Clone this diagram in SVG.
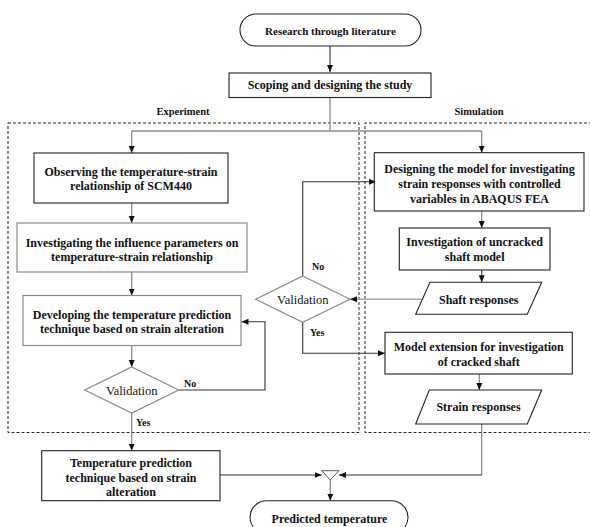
<svg xmlns="http://www.w3.org/2000/svg" width="590" height="527" viewBox="0 0 590 527" font-family="'Liberation Serif', 'Times New Roman', 'DejaVu Serif', serif">
<defs>
<style>
text{font-family:'Liberation Serif','Times New Roman','DejaVu Serif',serif;font-weight:bold;font-size:12px;fill:#111;text-anchor:middle}
.sm{font-size:10.5px}
.lbl{font-size:10px;text-anchor:start}
.val{font-weight:normal;font-size:12.5px}
.box{fill:#fff;stroke:#222;stroke-width:1.1}
.gbox{fill:#fff;stroke:#8a8a8a;stroke-width:1.2}
.dash{fill:none;stroke:#222;stroke-width:1;stroke-dasharray:3 2}
.c{fill:none;stroke:#333;stroke-width:1.1}
.g{fill:none;stroke:#8c8c8c;stroke-width:1.3}
.lg{fill:none;stroke:#aaa;stroke-width:1.4}
</style>
<marker id="a" markerUnits="userSpaceOnUse" markerWidth="8" markerHeight="8" refX="7" refY="4" orient="auto">
<path d="M0,1 L7,4 L0,7 Z" fill="#111"/>
</marker>
</defs>
<rect width="590" height="527" fill="#fff"/>

<g id="groups">
<path class="dash" d="M8 123 H359 V432.5 H8 Z"/>
<path class="dash" d="M592 123 H365 V432.5 H592"/>
<text class="sm" x="183" y="115">Experiment</text>
<text class="sm" x="479" y="115">Simulation</text>
</g>

<g id="connectors">
<path class="c" d="M330 46 V72" marker-end="url(#a)"/>
<path class="g" d="M330 97 V131"/>
<path class="g" d="M131.7 131 H481.7"/>
<path class="g" d="M131.7 131 V153" marker-end="url(#a)"/>
<path class="g" d="M481.7 131 V152.7" marker-end="url(#a)"/>
<path class="g" d="M131.7 203 V223" marker-end="url(#a)"/>
<path class="g" d="M131.7 272 V295.5" marker-end="url(#a)"/>
<path class="g" d="M131.7 345.5 V367" marker-end="url(#a)"/>
<path class="c" d="M178.7 390 H265 V321.7 H241.5" marker-end="url(#a)"/>
<path class="g" d="M131.7 413 V450.7" marker-end="url(#a)"/>
<path class="c" d="M302.7 276 V181.7 H376" marker-end="url(#a)"/>
<path class="c" d="M302.7 322.3 V353.3 H385" marker-end="url(#a)"/>
<path class="g" d="M481.7 211 V228" marker-end="url(#a)"/>
<path class="c" d="M481.7 270 V282.3" marker-end="url(#a)"/>
<path class="lg" d="M422 299.3 H350" marker-end="url(#a)"/>
<path class="g" d="M479.3 374 V390" marker-end="url(#a)"/>
<path class="g" d="M481.7 424 V475"/>
<path class="c" d="M481.7 475 H339" marker-end="url(#a)"/>
<path class="c" d="M220 475 H321.7" marker-end="url(#a)"/>
<path class="g" d="M330.3 480 V500.7" marker-end="url(#a)"/>
</g>

<g id="research">
<rect class="box" x="240" y="14" width="181" height="32" rx="16"/>
<text x="330.5" y="34.5" style="font-size:11px">Research through literature</text>
</g>
<g id="scoping">
<rect class="box" x="229" y="73" width="202" height="24.5"/>
<text x="330" y="89">Scoping and designing the study</text>
</g>

<g id="observing">
<rect class="box" x="34" y="153" width="194" height="50"/>
<text x="131" y="175.5">Observing the temperature-strain</text>
<text x="131" y="189.5">relationship of SCM440</text>
</g>
<g id="investigating">
<rect class="gbox" x="17" y="223" width="230" height="49"/>
<text x="132" y="247">Investigating the influence parameters on</text>
<text x="132" y="261">temperature-strain relationship</text>
</g>
<g id="developing">
<rect class="gbox" x="23" y="295.5" width="218" height="50"/>
<text x="132" y="318.5">Developing the temperature prediction</text>
<text x="132" y="332.5">technique based on strain alteration</text>
</g>
<g id="validation-left">
<polygon class="gbox" points="131.7,367 178.7,390 131.7,413 84.7,390"/>
<text class="val" x="131.7" y="394.5">Validation</text>
<text class="lbl" x="184" y="386.5">No</text>
<text class="lbl" x="136" y="425.5">Yes</text>
</g>
<g id="temperature-technique">
<rect class="box" x="41.7" y="450.7" width="178.3" height="50"/>
<text x="131" y="467">Temperature prediction</text>
<text x="131" y="481.5">technique based on strain</text>
<text x="131" y="495.5">alteration</text>
</g>

<g id="designing">
<rect class="box" x="374.3" y="152.7" width="209.7" height="58.3"/>
<text x="479.5" y="172.5">Designing the model for investigating</text>
<text x="479.5" y="187.5">strain responses with controlled</text>
<text x="479.5" y="202.5">variables in ABAQUS FEA</text>
</g>
<g id="uncracked">
<rect class="box" x="399.3" y="228" width="150.7" height="42"/>
<text x="474.7" y="245.5">Investigation of uncracked</text>
<text x="474.7" y="260.5">shaft model</text>
</g>
<g id="shaft-responses">
<polygon class="box" points="430,282.3 541.7,282.3 527.3,314.3 415.7,314.3"/>
<text x="478.7" y="303.5">Shaft responses</text>
</g>
<g id="validation-right">
<polygon class="gbox" points="302.7,276 350,299.3 302.7,322.3 255.7,299.3"/>
<text class="val" x="302.7" y="303.5">Validation</text>
<text class="lbl" x="312" y="270">No</text>
<text class="lbl" x="310" y="335.5">Yes</text>
</g>
<g id="model-extension">
<rect class="box" x="385" y="332.3" width="187.3" height="41.7"/>
<text x="478.7" y="351">Model extension for investigation</text>
<text x="478.7" y="366">of cracked shaft</text>
</g>
<g id="strain-responses">
<polygon class="box" points="429.3,390 541.7,390 527.3,424 415.7,424"/>
<text x="478.5" y="410.5">Strain responses</text>
</g>

<g id="merge">
<polygon points="321.7,470.7 339,470.7 330.3,480" fill="#fff" stroke="#555" stroke-width="1"/>
</g>
<g id="predicted">
<rect class="box" x="250" y="500.7" width="158" height="33" rx="16.5"/>
<text x="329.5" y="522.5">Predicted temperature</text>
</g>
</svg>
